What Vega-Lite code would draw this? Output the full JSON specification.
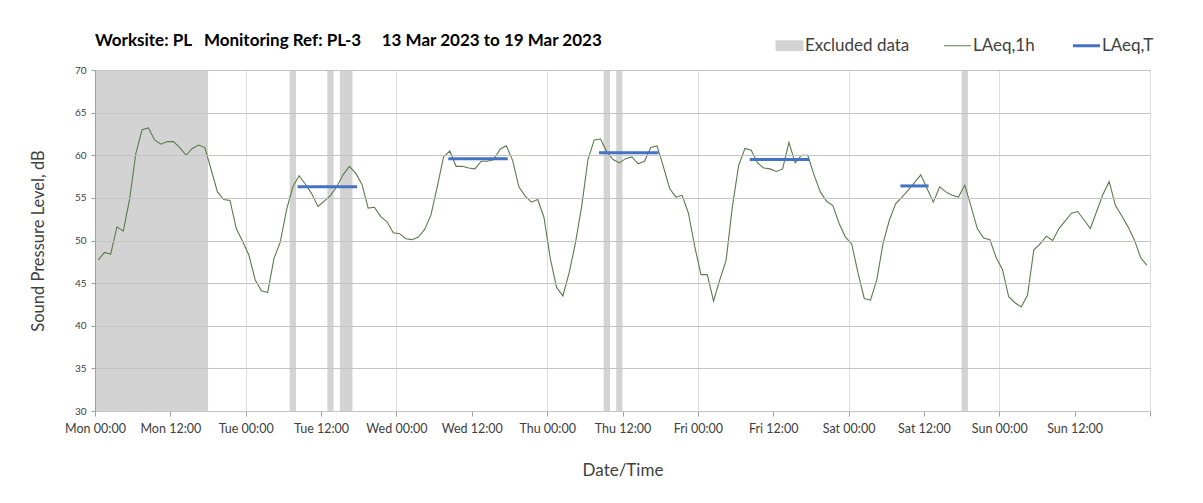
{
  "$schema": "https://vega.github.io/schema/vega-lite/v6.json",
  "autosize": {"type": "none"},
  "width": 1055,
  "height": 341,
  "padding": {"left": 95, "top": 70, "right": 53, "bottom": 92},
  "background": "white",
  "title": {
    "text": "Worksite: PL\u00a0\u00a0\u00a0Monitoring Ref: PL-3\u00a0\u00a0\u00a0\u00a0\u00a013 Mar 2023 to 19 Mar 2023",
    "anchor": "start",
    "frame": "group",
    "font": "Lato",
    "fontSize": 17,
    "fontWeight": "bold",
    "color": "#000000",
    "offset": -30,
    "baseline": "bottom"
  },
  "config": {
    "view": {"stroke": "#a0a0a0", "strokeWidth": 1},
    "font": "Lato",
    "axis": {"labelFont": "Lato", "titleFont": "Lato", "labelColor": "#404040", "titleColor": "#404040", "titleFontWeight": "normal"}
  },
  "datasets": {
    "bands": [
      {"start": 0, "end": 18, "series": "Excluded data"},
      {"start": 31, "end": 32, "series": "Excluded data"},
      {"start": 37, "end": 38, "series": "Excluded data"},
      {"start": 39, "end": 41, "series": "Excluded data"},
      {"start": 81, "end": 82, "series": "Excluded data"},
      {"start": 83, "end": 84, "series": "Excluded data"},
      {"start": 138, "end": 139, "series": "Excluded data"}
    ],
    "laeqT": [
      {"start": 32.5, "end": 41.5, "v": 56.3, "series": "LAeq,T"},
      {"start": 56.5, "end": 65.5, "v": 59.6, "series": "LAeq,T"},
      {"start": 80.5, "end": 89.5, "v": 60.3, "series": "LAeq,T"},
      {"start": 104.5, "end": 113.5, "v": 59.5, "series": "LAeq,T"},
      {"start": 128.5, "end": 132.5, "v": 56.4, "series": "LAeq,T"}
    ],
    "hourly": [
      {"h": 0.5, "v": 47.7}, {"h": 1.5, "v": 48.6}, {"h": 2.5, "v": 48.4}, {"h": 3.5, "v": 51.6},
      {"h": 4.5, "v": 51.1}, {"h": 5.5, "v": 54.8}, {"h": 6.5, "v": 60.2}, {"h": 7.5, "v": 63.0},
      {"h": 8.5, "v": 63.2}, {"h": 9.5, "v": 61.8}, {"h": 10.5, "v": 61.3}, {"h": 11.5, "v": 61.6},
      {"h": 12.5, "v": 61.6}, {"h": 13.5, "v": 60.9}, {"h": 14.5, "v": 60.0}, {"h": 15.5, "v": 60.8},
      {"h": 16.5, "v": 61.2}, {"h": 17.5, "v": 60.9}, {"h": 18.5, "v": 58.3}, {"h": 19.5, "v": 55.7},
      {"h": 20.5, "v": 54.8}, {"h": 21.5, "v": 54.7}, {"h": 22.5, "v": 51.4}, {"h": 23.5, "v": 49.9},
      {"h": 24.5, "v": 48.3}, {"h": 25.5, "v": 45.4}, {"h": 26.5, "v": 44.1}, {"h": 27.5, "v": 43.9},
      {"h": 28.5, "v": 47.9}, {"h": 29.5, "v": 49.8}, {"h": 30.5, "v": 53.6}, {"h": 31.5, "v": 56.3},
      {"h": 32.5, "v": 57.6}, {"h": 33.5, "v": 56.6}, {"h": 34.5, "v": 55.5}, {"h": 35.5, "v": 54.0},
      {"h": 36.5, "v": 54.6}, {"h": 37.5, "v": 55.3}, {"h": 38.5, "v": 56.3}, {"h": 39.5, "v": 57.7},
      {"h": 40.5, "v": 58.7}, {"h": 41.5, "v": 57.9}, {"h": 42.5, "v": 56.6}, {"h": 43.5, "v": 53.8},
      {"h": 44.5, "v": 53.9}, {"h": 45.5, "v": 52.8}, {"h": 46.5, "v": 52.2}, {"h": 47.5, "v": 50.9},
      {"h": 48.5, "v": 50.8}, {"h": 49.5, "v": 50.2}, {"h": 50.5, "v": 50.1}, {"h": 51.5, "v": 50.4},
      {"h": 52.5, "v": 51.3}, {"h": 53.5, "v": 53.0}, {"h": 54.5, "v": 56.3}, {"h": 55.5, "v": 59.8},
      {"h": 56.5, "v": 60.5}, {"h": 57.5, "v": 58.7}, {"h": 58.5, "v": 58.7}, {"h": 59.5, "v": 58.5},
      {"h": 60.5, "v": 58.4}, {"h": 61.5, "v": 59.3}, {"h": 62.5, "v": 59.3}, {"h": 63.5, "v": 59.5},
      {"h": 64.5, "v": 60.7}, {"h": 65.5, "v": 61.1}, {"h": 66.5, "v": 59.4}, {"h": 67.5, "v": 56.3},
      {"h": 68.5, "v": 55.2}, {"h": 69.5, "v": 54.5}, {"h": 70.5, "v": 54.8}, {"h": 71.5, "v": 52.7},
      {"h": 72.5, "v": 47.9}, {"h": 73.5, "v": 44.5}, {"h": 74.5, "v": 43.5}, {"h": 75.5, "v": 46.2},
      {"h": 76.5, "v": 49.7}, {"h": 77.5, "v": 54.0}, {"h": 78.5, "v": 59.5}, {"h": 79.5, "v": 61.8},
      {"h": 80.5, "v": 61.9}, {"h": 81.5, "v": 60.4}, {"h": 82.5, "v": 59.5}, {"h": 83.5, "v": 59.1},
      {"h": 84.5, "v": 59.6}, {"h": 85.5, "v": 59.8}, {"h": 86.5, "v": 59.0}, {"h": 87.5, "v": 59.3},
      {"h": 88.5, "v": 60.9}, {"h": 89.5, "v": 61.1}, {"h": 90.5, "v": 58.7}, {"h": 91.5, "v": 56.1},
      {"h": 92.5, "v": 55.1}, {"h": 93.5, "v": 55.3}, {"h": 94.5, "v": 53.2}, {"h": 95.5, "v": 49.3},
      {"h": 96.5, "v": 46.0}, {"h": 97.5, "v": 46.0}, {"h": 98.5, "v": 42.9}, {"h": 99.5, "v": 45.4},
      {"h": 100.5, "v": 47.7}, {"h": 101.5, "v": 54.0}, {"h": 102.5, "v": 58.8}, {"h": 103.5, "v": 60.8},
      {"h": 104.5, "v": 60.6}, {"h": 105.5, "v": 59.1}, {"h": 106.5, "v": 58.5}, {"h": 107.5, "v": 58.4},
      {"h": 108.5, "v": 58.1}, {"h": 109.5, "v": 58.4}, {"h": 110.5, "v": 61.5}, {"h": 111.5, "v": 59.1},
      {"h": 112.5, "v": 60.0}, {"h": 113.5, "v": 60.0}, {"h": 114.5, "v": 57.7}, {"h": 115.5, "v": 55.7},
      {"h": 116.5, "v": 54.6}, {"h": 117.5, "v": 54.1}, {"h": 118.5, "v": 52.0}, {"h": 119.5, "v": 50.4},
      {"h": 120.5, "v": 49.6}, {"h": 121.5, "v": 46.2}, {"h": 122.5, "v": 43.2}, {"h": 123.5, "v": 43.0},
      {"h": 124.5, "v": 45.4}, {"h": 125.5, "v": 49.7}, {"h": 126.5, "v": 52.4}, {"h": 127.5, "v": 54.3},
      {"h": 128.5, "v": 55.1}, {"h": 129.5, "v": 55.9}, {"h": 130.5, "v": 56.8}, {"h": 131.5, "v": 57.7},
      {"h": 132.5, "v": 56.1}, {"h": 133.5, "v": 54.5}, {"h": 134.5, "v": 56.3}, {"h": 135.5, "v": 55.7},
      {"h": 136.5, "v": 55.3}, {"h": 137.5, "v": 55.1}, {"h": 138.5, "v": 56.5}, {"h": 139.5, "v": 54.0},
      {"h": 140.5, "v": 51.4}, {"h": 141.5, "v": 50.3}, {"h": 142.5, "v": 50.1}, {"h": 143.5, "v": 48.0},
      {"h": 144.5, "v": 46.6}, {"h": 145.5, "v": 43.4}, {"h": 146.5, "v": 42.7}, {"h": 147.5, "v": 42.2},
      {"h": 148.5, "v": 43.6}, {"h": 149.5, "v": 48.9}, {"h": 150.5, "v": 49.6}, {"h": 151.5, "v": 50.5},
      {"h": 152.5, "v": 50.0}, {"h": 153.5, "v": 51.4}, {"h": 154.5, "v": 52.3}, {"h": 155.5, "v": 53.2},
      {"h": 156.5, "v": 53.4}, {"h": 157.5, "v": 52.4}, {"h": 158.5, "v": 51.4}, {"h": 159.5, "v": 53.4},
      {"h": 160.5, "v": 55.4}, {"h": 161.5, "v": 56.9}, {"h": 162.5, "v": 54.1}, {"h": 163.5, "v": 52.9},
      {"h": 164.5, "v": 51.6}, {"h": 165.5, "v": 50.1}, {"h": 166.5, "v": 48.0}, {"h": 167.5, "v": 47.1}
    ]
  },
  "layer": [
    {
      "data": {"name": "bands"},
      "mark": {"type": "rect", "color": "#d3d3d3"},
      "encoding": {
        "x": {"field": "start", "type": "quantitative", "scale": {"domain": [0, 168], "nice": false, "zero": false},
          "axis": {
            "values": [0, 12, 24, 36, 48, 60, 72, 84, 96, 108, 120, 132, 144, 156, 168],
            "labelExpr": "datum.value >= 168 ? '' : ['Mon','Tue','Wed','Thu','Fri','Sat','Sun'][floor(datum.value/24)] + (datum.value % 24 == 0 ? ' 00:00' : ' 12:00')",
            "title": "Date/Time",
            "titleFontSize": 17,
            "titlePadding": 28,
            "labelFontSize": 12.5,
            "labelPadding": 6,
            "labelFlush": false,
            "labelOverlap": false,
            "tickSize": 5,
            "tickColor": "#a0a0a0",
            "domainColor": "#a0a0a0",
            "grid": true,
            "gridColor": {"condition": {"test": "datum.value % 24 === 0", "value": "#dcdcdc"}, "value": "transparent"}
          }
        },
        "x2": {"field": "end"},
        "color": {"field": "series", "type": "nominal",
          "scale": {"domain": ["Excluded data", "LAeq,1h", "LAeq,T"], "range": ["#d3d3d3", "#5b7b4b", "#4472c4"]},
          "legend": {
            "orient": "none",
            "direction": "horizontal",
            "legendX": 686,
            "legendY": -33,
            "title": null,
            "labelFont": "Lato",
            "labelFontSize": 17,
            "labelColor": "#404040",
            "labelOffset": 7,
            "columnPadding": 32,
            "symbolSize": 729,
            "symbolStrokeWidth": 1,
            "encode": {
              "symbols": {
                "update": {
                  "shape": {"signal": "datum.value === 'Excluded data' ? 'M-1,-0.36H1V0.36H-1Z' : 'stroke'"},
                  "fill": {"signal": "datum.value === 'Excluded data' ? '#d3d3d3' : 'transparent'"},
                  "stroke": {"signal": "datum.value === 'Excluded data' ? 'transparent' : (datum.value === 'LAeq,T' ? '#4472c4' : '#5b7b4b')"},
                  "strokeWidth": {"signal": "datum.value === 'LAeq,T' ? 3 : 1"},
                  "opacity": {"value": 1}
                }
              }
            }
          }
        }
      }
    },
    {
      "data": {"name": "hourly"},
      "mark": {"type": "line", "color": "#5b7b4b", "strokeWidth": 1.1},
      "encoding": {
        "x": {"field": "h", "type": "quantitative"},
        "y": {"field": "v", "type": "quantitative", "scale": {"domain": [30, 70], "nice": false, "zero": false},
          "axis": {
            "values": [30, 35, 40, 45, 50, 55, 60, 65, 70],
            "title": "Sound Pressure Level, dB",
            "titleFontSize": 16.5,
            "titlePadding": 28,
            "labelFontSize": 10,
            "labelPadding": 5,
            "tickSize": 4,
            "tickColor": "#a0a0a0",
            "domainColor": "#a0a0a0",
            "gridColor": "#c4c4c4",
            "zindex": 1
          }
        },
        "color": {"datum": "LAeq,1h"}
      }
    },
    {
      "data": {"name": "laeqT"},
      "mark": {"type": "rule", "color": "#4472c4", "strokeWidth": 3, "strokeCap": "square"},
      "encoding": {
        "x": {"field": "start", "type": "quantitative"},
        "x2": {"field": "end"},
        "y": {"field": "v", "type": "quantitative"},
        "color": {"field": "series", "type": "nominal"}
      }
    }
  ]
}
